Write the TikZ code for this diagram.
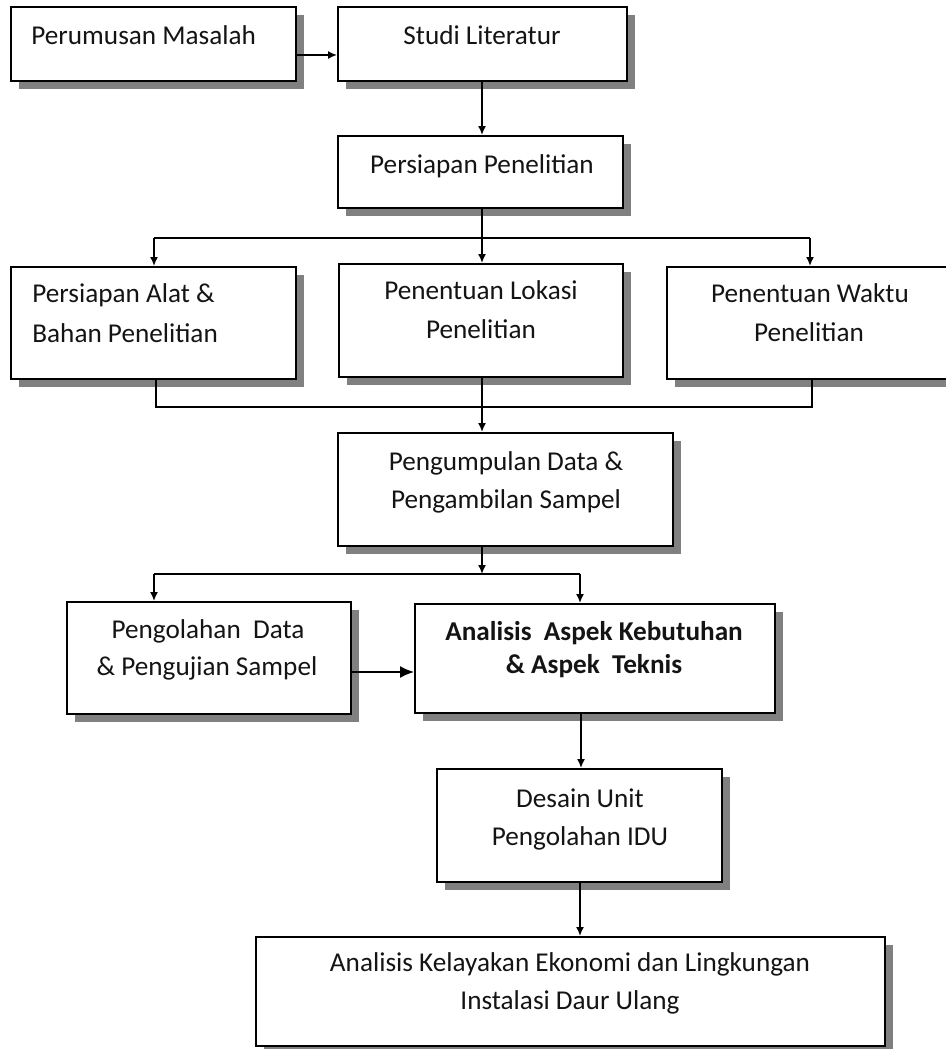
\documentclass[tikz,border=0pt]{standalone}
\usepackage{fontspec}
\setmainfont{Carlito}
\usetikzlibrary{arrows.meta,calc}
\pgfdeclarelayer{background}
\pgfsetlayers{background,main}
\definecolor{shadowc}{RGB}{128,128,128}
\definecolor{inkc}{RGB}{20,20,20}
\tikzset{
 box/.style={draw=black, line width=1pt, fill=white, inner sep=0pt},
 lab/.style={inner sep=0pt, anchor=base, font=\fontsize{13.6pt}{16pt}\selectfont, text=inkc},
 labl/.style={lab, anchor=base west},
 labb/.style={lab, font=\fontsize{13.6pt}{16pt}\selectfont\bfseries},
 conn/.style={line width=0.8pt, draw=black},
 arr/.style={conn, -{Latex[length=4.5pt,width=4pt]}},
 bigarr/.style={conn, -{Latex[length=7pt,width=6pt]}},
}
\newcommand\shbox[5]{%
 \begin{pgfonlayer}{background}\fill[shadowc] ({#2+8},{#3+8}) rectangle ({#4+8},{#5+8});\end{pgfonlayer}
 \node[box, minimum width={(#4-#2)*0.5pt}, minimum height={(#5-#3)*0.5pt}] (#1) at ({(#2+#4)/2},{(#3+#5)/2}) {};
}
\begin{document}
\begin{tikzpicture}[x=0.5pt,y=-0.5pt]
\useasboundingbox (0,0) rectangle (946,1049);
\begin{pgfonlayer}{background}\fill[white] (0,0) rectangle (946,1049);\end{pgfonlayer}
% boxes
\shbox{b1}{11}{7}{296}{81}
\shbox{b2}{338}{7}{627}{81}
\shbox{b3}{338}{136}{623}{208}
\shbox{b4}{11}{267}{296}{379}
\shbox{b5}{339}{264}{623}{377}
\shbox{b6}{667}{267}{953}{379}
\shbox{b7}{338}{433}{673}{546}
\shbox{b8}{67}{602}{351}{714}
\shbox{b9}{415}{604}{775}{713}
\shbox{b10}{437}{769}{722}{882}
\shbox{b11}{256}{937}{885}{1046}
% texts
\node[labl] (t1) at (31,44) {Perumusan Masalah};
\node[lab] (t2) at (482,44) {Studi Literatur};
\node[lab] (t3) at (482,173) {Persiapan Penelitian};
\node[labl] (t4a) at (32,302) {Persiapan Alat \&};
\node[labl] (t4b) at (32,342) {Bahan Penelitian};
\node[lab] (t5a) at (481,299) {Penentuan Lokasi};
\node[lab] (t5b) at (481,338) {Penelitian};
\node[lab] (t6a) at (810,302) {Penentuan Waktu};
\node[lab] (t6b) at (809,341) {Penelitian};
\node[lab] (t7a) at (506,470) {Pengumpulan Data \&};
\node[lab] (t7b) at (506,508) {Pengambilan Sampel};
\node[lab] (t8a) at (208,638) {Pengolahan\ \ Data};
\node[lab] (t8b) at (207,675) {\& Pengujian Sampel};
\node[labb] (t9a) at (594,640) {Analisis\ \ Aspek Kebutuhan};
\node[labb] (t9b) at (594,673) {\& Aspek\ \ Teknis};
\node[lab] (t10a) at (580,807) {Desain Unit};
\node[lab] (t10b) at (580,845) {Pengolahan IDU};
\node[lab] (t11a) at (570,971) {Analisis Kelayakan Ekonomi dan Lingkungan};
\node[lab] (t11b) at (570,1009) {Instalasi Daur Ulang};
% junction coordinates
\coordinate (y1) at (0,55);
\coordinate (j1) at (482,238);
\coordinate (jA) at (154,238);
\coordinate (jC) at (810,238);
\coordinate (j2) at (482,407);
\coordinate (kA) at (156,407);
\coordinate (kC) at (812,407);
\coordinate (j3) at (482,574);
\coordinate (m1) at (154,574);
\coordinate (m2) at (580,574);
\coordinate (y2) at (0,672);
\coordinate (xf) at (581,0);
\coordinate (xg) at (580,0);
% connectors
\draw[arr] (b1.east |- y1) -- (b2.west |- y1);
\draw[arr] (b2.south -| j1) -- (b3.north -| j1);
\draw[conn] (b3.south -| j1) -- (j1);
\draw[conn] (jA) -- (jC);
\draw[arr] (jA) -- (b4.north -| jA);
\draw[arr] (j1) -- (b5.north -| j1);
\draw[arr] (jC) -- (b6.north -| jC);
\draw[conn] (b4.south -| kA) -- (kA) -- (kC) -- (b6.south -| kC);
\draw[arr] (b5.south -| j2) -- (b7.north -| j2);
\draw[arr] (b7.south -| j3) -- (j3);
\draw[conn] (m1) -- (m2);
\draw[arr] (m1) -- (b8.north -| m1);
\draw[arr] (m2) -- (b9.north -| m2);
\draw[bigarr] (b8.east |- y2) -- (b9.west |- y2);
\draw[arr] (b9.south -| xf) -- (b10.north -| xf);
\draw[arr] (b10.south -| xg) -- (b11.north -| xg);
\end{tikzpicture}
\end{document}
